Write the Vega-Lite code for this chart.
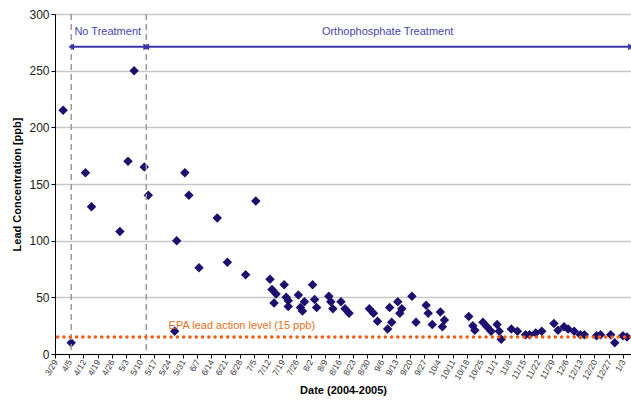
{
  "$schema": "https://vega.github.io/schema/vega-lite/v6.json",
  "width": 576,
  "height": 340,
  "autosize": "none",
  "padding": {"left": 55, "top": 14, "right": 0, "bottom": 51},
  "background": "white",
  "config": {
    "view": {"stroke": null},
    "font": "Liberation Sans",
    "axisX": {"labelAngle": -60, "labelAlign": "right", "labelBaseline": "middle", "labelFontSize": 8.5, "labelColor": "#333333", "labelPadding": 2, "labelOverlap": false, "tickColor": "#000000", "tickSize": 4, "domainColor": "#000000", "grid": false, "titleFontSize": 11, "titleFontWeight": "bold", "titleColor": "#000000"},
    "axisY": {"labelFontSize": 12, "labelColor": "#222222", "labelPadding": 2, "tickColor": "#000000", "tickSize": 4, "domainColor": "#000000", "grid": true, "gridColor": "#c8c8c8", "gridWidth": 1.5, "titleFontSize": 11, "titleFontWeight": "bold", "titleColor": "#000000", "titlePadding": 6}
  },
  "data": {"values": [
    {"date": "2004-04-02", "lead": 215},
    {"date": "2004-04-06", "lead": 10},
    {"date": "2004-04-13", "lead": 160},
    {"date": "2004-04-16", "lead": 130},
    {"date": "2004-04-30", "lead": 108},
    {"date": "2004-05-04", "lead": 170},
    {"date": "2004-05-07", "lead": 250},
    {"date": "2004-05-12", "lead": 165},
    {"date": "2004-05-14", "lead": 140},
    {"date": "2004-05-27", "lead": 20},
    {"date": "2004-05-28", "lead": 100},
    {"date": "2004-06-01", "lead": 160},
    {"date": "2004-06-03", "lead": 140},
    {"date": "2004-06-08", "lead": 76},
    {"date": "2004-06-17", "lead": 120},
    {"date": "2004-06-22", "lead": 81},
    {"date": "2004-07-01", "lead": 70},
    {"date": "2004-07-06", "lead": 135},
    {"date": "2004-07-13", "lead": 66},
    {"date": "2004-07-14", "lead": 57},
    {"date": "2004-07-15", "lead": 45},
    {"date": "2004-07-16", "lead": 53},
    {"date": "2004-07-20", "lead": 61},
    {"date": "2004-07-21", "lead": 50},
    {"date": "2004-07-22", "lead": 47},
    {"date": "2004-07-22", "lead": 42},
    {"date": "2004-07-27", "lead": 52},
    {"date": "2004-07-28", "lead": 41},
    {"date": "2004-07-29", "lead": 38},
    {"date": "2004-07-30", "lead": 46},
    {"date": "2004-08-03", "lead": 61},
    {"date": "2004-08-04", "lead": 48},
    {"date": "2004-08-05", "lead": 41},
    {"date": "2004-08-11", "lead": 51},
    {"date": "2004-08-12", "lead": 46},
    {"date": "2004-08-13", "lead": 40},
    {"date": "2004-08-17", "lead": 46},
    {"date": "2004-08-19", "lead": 40},
    {"date": "2004-08-21", "lead": 36},
    {"date": "2004-08-31", "lead": 40},
    {"date": "2004-09-02", "lead": 36},
    {"date": "2004-09-04", "lead": 29},
    {"date": "2004-09-09", "lead": 22},
    {"date": "2004-09-10", "lead": 41},
    {"date": "2004-09-11", "lead": 28},
    {"date": "2004-09-14", "lead": 46},
    {"date": "2004-09-15", "lead": 36},
    {"date": "2004-09-16", "lead": 40},
    {"date": "2004-09-21", "lead": 51},
    {"date": "2004-09-23", "lead": 28},
    {"date": "2004-09-28", "lead": 43},
    {"date": "2004-09-29", "lead": 36},
    {"date": "2004-10-01", "lead": 26},
    {"date": "2004-10-05", "lead": 37},
    {"date": "2004-10-06", "lead": 24},
    {"date": "2004-10-07", "lead": 30},
    {"date": "2004-10-19", "lead": 33},
    {"date": "2004-10-21", "lead": 25},
    {"date": "2004-10-22", "lead": 21},
    {"date": "2004-10-26", "lead": 28},
    {"date": "2004-10-28", "lead": 24},
    {"date": "2004-10-30", "lead": 20},
    {"date": "2004-11-02", "lead": 26},
    {"date": "2004-11-03", "lead": 20},
    {"date": "2004-11-04", "lead": 13},
    {"date": "2004-11-09", "lead": 22},
    {"date": "2004-11-12", "lead": 20},
    {"date": "2004-11-16", "lead": 17},
    {"date": "2004-11-18", "lead": 17},
    {"date": "2004-11-21", "lead": 18.5},
    {"date": "2004-11-24", "lead": 20},
    {"date": "2004-11-30", "lead": 27},
    {"date": "2004-12-02", "lead": 21},
    {"date": "2004-12-05", "lead": 24},
    {"date": "2004-12-07", "lead": 22},
    {"date": "2004-12-10", "lead": 20},
    {"date": "2004-12-13", "lead": 17},
    {"date": "2004-12-15", "lead": 17},
    {"date": "2004-12-21", "lead": 16},
    {"date": "2004-12-23", "lead": 17},
    {"date": "2004-12-28", "lead": 17},
    {"date": "2004-12-30", "lead": 10},
    {"date": "2005-01-03", "lead": 16},
    {"date": "2005-01-05", "lead": 15}
  ]},
  "layer": [
    {
      "mark": {"type": "point", "shape": "diamond", "filled": true, "color": "#1c0f6e", "size": 90, "opacity": 1},
      "encoding": {
        "x": {
          "field": "date",
          "type": "temporal",
          "scale": {"domain": [1080518400000, 1105056000000]},
          "axis": {"values": [1080518400000, 1081123200000, 1081728000000, 1082332800000, 1082937600000, 1083542400000, 1084147200000, 1084752000000, 1085356800000, 1085961600000, 1086566400000, 1087171200000, 1087776000000, 1088380800000, 1088985600000, 1089590400000, 1090195200000, 1090800000000, 1091404800000, 1092009600000, 1092614400000, 1093219200000, 1093824000000, 1094428800000, 1095033600000, 1095638400000, 1096243200000, 1096848000000, 1097452800000, 1098057600000, 1098662400000, 1099267200000, 1099872000000, 1100476800000, 1101081600000, 1101686400000, 1102291200000, 1102896000000, 1103500800000, 1104105600000, 1104710400000], "labelExpr": "utcFormat(datum.value, '%-m/%-d')", "labelOverlap": false, "title": "Date (2004-2005)"}
        },
        "y": {
          "field": "lead",
          "type": "quantitative",
          "scale": {"domain": [0, 300], "nice": false},
          "axis": {"values": [0, 50, 100, 150, 200, 250, 300], "title": "Lead Concentration [ppb]"}
        }
      }
    },
    {
      "data": {"values": [
        {"start": "2004-04-06", "label": "No Treatment"},
        {"start": "2004-05-13", "label": "Orthophosphate Treatment"}
      ]},
      "mark": {"type": "rule", "color": "#9a9a9a", "strokeWidth": 1.5, "strokeDash": [6, 4]},
      "encoding": {
        "x": {"field": "start", "type": "temporal", "axis": {"values": [1080518400000, 1081123200000, 1081728000000, 1082332800000, 1082937600000, 1083542400000, 1084147200000, 1084752000000, 1085356800000, 1085961600000, 1086566400000, 1087171200000, 1087776000000, 1088380800000, 1088985600000, 1089590400000, 1090195200000, 1090800000000, 1091404800000, 1092009600000, 1092614400000, 1093219200000, 1093824000000, 1094428800000, 1095033600000, 1095638400000, 1096243200000, 1096848000000, 1097452800000, 1098057600000, 1098662400000, 1099267200000, 1099872000000, 1100476800000, 1101081600000, 1101686400000, 1102291200000, 1102896000000, 1103500800000, 1104105600000, 1104710400000], "labelExpr": "utcFormat(datum.value, '%-m/%-d')", "labelOverlap": false, "title": "Date (2004-2005)"}}
      }
    },
    {
      "data": {"values": [{"level": 15, "label": "EPA lead action level (15 ppb)"}]},
      "mark": {"type": "rule", "color": "#ee5f14", "strokeWidth": 3.5, "strokeDash": [0.1, 6.2], "strokeCap": "round"},
      "encoding": {
        "y": {"field": "level", "type": "quantitative", "axis": {"values": [0, 50, 100, 150, 200, 250, 300], "title": "Lead Concentration [ppb]"}}
      }
    },
    {
      "data": {"values": [{"level": 15, "label": "EPA lead action level (15 ppb)"}]},
      "mark": {"type": "text", "align": "left", "baseline": "middle", "fontSize": 11, "color": "#e8701e"},
      "encoding": {
        "x": {"datum": {"year": 2004, "month": 5, "date": 24}, "type": "temporal", "axis": {"values": [1080518400000, 1081123200000, 1081728000000, 1082332800000, 1082937600000, 1083542400000, 1084147200000, 1084752000000, 1085356800000, 1085961600000, 1086566400000, 1087171200000, 1087776000000, 1088380800000, 1088985600000, 1089590400000, 1090195200000, 1090800000000, 1091404800000, 1092009600000, 1092614400000, 1093219200000, 1093824000000, 1094428800000, 1095033600000, 1095638400000, 1096243200000, 1096848000000, 1097452800000, 1098057600000, 1098662400000, 1099267200000, 1099872000000, 1100476800000, 1101081600000, 1101686400000, 1102291200000, 1102896000000, 1103500800000, 1104105600000, 1104710400000], "labelExpr": "utcFormat(datum.value, '%-m/%-d')", "labelOverlap": false, "title": "Date (2004-2005)"}},
        "y": {"datum": 25, "type": "quantitative", "axis": {"values": [0, 50, 100, 150, 200, 250, 300], "title": "Lead Concentration [ppb]"}},
        "text": {"field": "label", "type": "nominal"}
      }
    },
    {
      "data": {"values": [
        {"start": "2004-04-06", "end": "2004-05-13", "mid": "2004-04-24", "label": "No Treatment"},
        {"start": "2004-05-13", "end": "2005-01-07", "mid": "2004-09-09", "label": "Orthophosphate Treatment"}
      ]},
      "layer": [
        {
          "mark": {"type": "rule", "color": "#3b36a8", "strokeWidth": 2},
          "encoding": {
            "x": {"field": "start", "type": "temporal", "axis": {"values": [1080518400000, 1081123200000, 1081728000000, 1082332800000, 1082937600000, 1083542400000, 1084147200000, 1084752000000, 1085356800000, 1085961600000, 1086566400000, 1087171200000, 1087776000000, 1088380800000, 1088985600000, 1089590400000, 1090195200000, 1090800000000, 1091404800000, 1092009600000, 1092614400000, 1093219200000, 1093824000000, 1094428800000, 1095033600000, 1095638400000, 1096243200000, 1096848000000, 1097452800000, 1098057600000, 1098662400000, 1099267200000, 1099872000000, 1100476800000, 1101081600000, 1101686400000, 1102291200000, 1102896000000, 1103500800000, 1104105600000, 1104710400000], "labelExpr": "utcFormat(datum.value, '%-m/%-d')", "labelOverlap": false, "title": "Date (2004-2005)"}},
            "x2": {"field": "end"},
            "y": {"datum": 271, "type": "quantitative", "axis": {"values": [0, 50, 100, 150, 200, 250, 300], "title": "Lead Concentration [ppb]"}}
          }
        },
        {
          "mark": {"type": "point", "shape": "triangle-left", "filled": true, "color": "#3b36a8", "size": 45, "opacity": 1},
          "encoding": {
            "x": {"field": "start", "type": "temporal", "axis": {"values": [1080518400000, 1081123200000, 1081728000000, 1082332800000, 1082937600000, 1083542400000, 1084147200000, 1084752000000, 1085356800000, 1085961600000, 1086566400000, 1087171200000, 1087776000000, 1088380800000, 1088985600000, 1089590400000, 1090195200000, 1090800000000, 1091404800000, 1092009600000, 1092614400000, 1093219200000, 1093824000000, 1094428800000, 1095033600000, 1095638400000, 1096243200000, 1096848000000, 1097452800000, 1098057600000, 1098662400000, 1099267200000, 1099872000000, 1100476800000, 1101081600000, 1101686400000, 1102291200000, 1102896000000, 1103500800000, 1104105600000, 1104710400000], "labelExpr": "utcFormat(datum.value, '%-m/%-d')", "labelOverlap": false, "title": "Date (2004-2005)"}},
            "y": {"datum": 271, "type": "quantitative", "axis": {"values": [0, 50, 100, 150, 200, 250, 300], "title": "Lead Concentration [ppb]"}}
          }
        },
        {
          "mark": {"type": "point", "shape": "triangle-right", "filled": true, "color": "#3b36a8", "size": 45, "opacity": 1},
          "encoding": {
            "x": {"field": "end", "type": "temporal", "axis": {"values": [1080518400000, 1081123200000, 1081728000000, 1082332800000, 1082937600000, 1083542400000, 1084147200000, 1084752000000, 1085356800000, 1085961600000, 1086566400000, 1087171200000, 1087776000000, 1088380800000, 1088985600000, 1089590400000, 1090195200000, 1090800000000, 1091404800000, 1092009600000, 1092614400000, 1093219200000, 1093824000000, 1094428800000, 1095033600000, 1095638400000, 1096243200000, 1096848000000, 1097452800000, 1098057600000, 1098662400000, 1099267200000, 1099872000000, 1100476800000, 1101081600000, 1101686400000, 1102291200000, 1102896000000, 1103500800000, 1104105600000, 1104710400000], "labelExpr": "utcFormat(datum.value, '%-m/%-d')", "labelOverlap": false, "title": "Date (2004-2005)"}},
            "y": {"datum": 271, "type": "quantitative", "axis": {"values": [0, 50, 100, 150, 200, 250, 300], "title": "Lead Concentration [ppb]"}}
          }
        },
        {
          "mark": {"type": "text", "align": "center", "baseline": "middle", "fontSize": 11, "color": "#4a45a8"},
          "encoding": {
            "x": {"field": "mid", "type": "temporal", "axis": {"values": [1080518400000, 1081123200000, 1081728000000, 1082332800000, 1082937600000, 1083542400000, 1084147200000, 1084752000000, 1085356800000, 1085961600000, 1086566400000, 1087171200000, 1087776000000, 1088380800000, 1088985600000, 1089590400000, 1090195200000, 1090800000000, 1091404800000, 1092009600000, 1092614400000, 1093219200000, 1093824000000, 1094428800000, 1095033600000, 1095638400000, 1096243200000, 1096848000000, 1097452800000, 1098057600000, 1098662400000, 1099267200000, 1099872000000, 1100476800000, 1101081600000, 1101686400000, 1102291200000, 1102896000000, 1103500800000, 1104105600000, 1104710400000], "labelExpr": "utcFormat(datum.value, '%-m/%-d')", "labelOverlap": false, "title": "Date (2004-2005)"}},
            "y": {"datum": 284, "type": "quantitative", "axis": {"values": [0, 50, 100, 150, 200, 250, 300], "title": "Lead Concentration [ppb]"}},
            "text": {"field": "label", "type": "nominal"}
          }
        }
      ]
    }
  ]
}
